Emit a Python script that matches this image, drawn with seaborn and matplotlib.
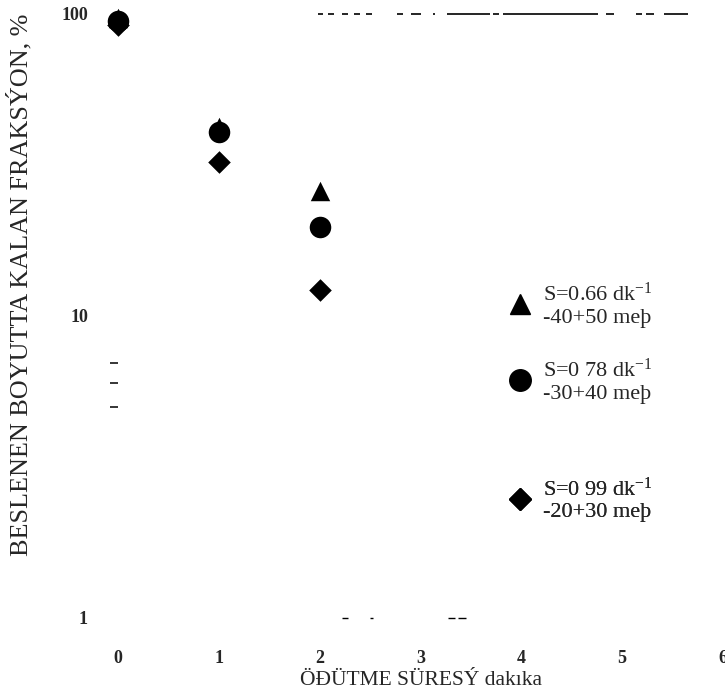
import pandas as pd
import matplotlib
matplotlib.use("Agg")
import matplotlib.pyplot as plt
from matplotlib.lines import Line2D
import seaborn as sns

# --- data ---
grind_time = [0, 1, 2]
frac_40_50 = [97, 42.3, 25.9]    # triangles
frac_30_40 = [95, 40.6, 19.7]    # circles
frac_20_30 = [92, 32.4, 12.2]    # diamonds

rate_labels = ["S=0.66 dk$^{-1}$", "S=0 78 dk$^{-1}$", "S=0 99 dk$^{-1}$"]
size_labels = ["-40+50 meþ", "-30+40 meþ", "-20+30 meþ"]

x_ticks = [0, 1, 2, 3, 4, 5, 6]
y_ticks = [1, 10, 100]
y_minor = [5, 6, 7]

df = pd.concat([
    pd.DataFrame({"time": grind_time, "frac": frac_40_50, "size": size_labels[0]}),
    pd.DataFrame({"time": grind_time, "frac": frac_30_40, "size": size_labels[1]}),
    pd.DataFrame({"time": grind_time, "frac": frac_20_30, "size": size_labels[2]}),
], ignore_index=True)

# --- style ---
sns.set_style("white")
plt.rcParams["font.family"] = ["Liberation Serif", "DejaVu Serif"]
plt.rcParams["mathtext.fontset"] = "custom"
plt.rcParams["mathtext.rm"] = "Liberation Serif"
plt.rcParams["mathtext.it"] = "Liberation Serif:italic"
plt.rcParams["mathtext.bf"] = "Liberation Serif:bold"
plt.rcParams["lines.scale_dashes"] = False

markers = {size_labels[0]: "^", size_labels[1]: "o", size_labels[2]: "D"}
msizes = {size_labels[0]: 14, size_labels[1]: 15.5, size_labels[2]: 11.5}

W, H = 725, 698
fig = plt.figure(figsize=(W / 100, H / 100), dpi=100)
ax = fig.add_axes([118 / W, 80 / H, 605 / W, 604 / H])
ax.set_yscale("log")

for name in size_labels:
    sns.scatterplot(data=df[df["size"] == name], x="time", y="frac",
                    marker=markers[name], s=msizes[name] ** 2, color="black",
                    edgecolor="black", linewidth=0, clip_on=False,
                    legend=False, ax=ax, zorder=3)

ax.set_xlim(0, 6)
ax.set_ylim(1, 100)
ax.set_xticks(x_ticks)
ax.set_xticklabels([str(t) for t in x_ticks])
ax.set_yticks(y_ticks)
ax.set_yticklabels([str(t) for t in y_ticks])
ax.set_yticks(y_minor, minor=True)
ax.yaxis.set_minor_formatter(matplotlib.ticker.NullFormatter())
ax.tick_params(axis="both", which="major", length=0, labelsize=13)
ax.tick_params(axis="x", which="major", pad=23)
ax.tick_params(axis="y", which="major", pad=21.6)
ax.tick_params(axis="y", which="minor", left=True, length=6, width=1.1,
               color="black", direction="out")
for lab in ax.get_xticklabels() + ax.get_yticklabels():
    lab.set_fontweight("bold")
for sp in ax.spines.values():
    sp.set_visible(False)

# faded frame fragments left over from the scan
px = 0.72
top_dash = [5, 5, 6, 8, 6, 6, 6, 6, 6, 25, 6, 8, 10, 12, 2, 12, 43, 3, 6, 4,
            95, 8, 8, 22, 6, 4, 8, 10, 24, 4]
bot_dash = [6, 22, 3, 75, 7, 3, 8, 4]
ax.axhline(100, xmin=0.331, xmax=0.942, color="black", lw=1.2, clip_on=False,
           dashes=[d * px for d in top_dash])
ax.axhline(1, xmin=0.370, xmax=0.575, color="black", lw=1.0, clip_on=False,
           dashes=[d * px for d in bot_dash])

ax.set_xlabel("ÖÐÜTME SÜRESÝ dakıka", fontsize=15.5)
ax.xaxis.set_label_coords(0.5, -0.088)
ax.set_ylabel("BESLENEN BOYUTTA KALAN FRAKSÝON, %", fontsize=18.8)
ax.yaxis.label.set_va("center")
ax.yaxis.set_label_coords((20 - 118) / 605, (618 - 285) / 604)

# legend: one small legend per entry, placed like the original
legend_y_px = [305, 381, 500]
for name, rate, ypx in zip(size_labels, rate_labels, legend_y_px):
    h = Line2D([], [], marker=markers[name], linestyle="", color="black",
               markersize=msizes[name])
    leg = ax.legend(handles=[h], labels=[rate + "\n" + name],
                    loc="center left", bbox_to_anchor=(509 / W, 1 - ypx / H),
                    bbox_transform=fig.transFigure, frameon=False, fontsize=16,
                    handlelength=1.0, handletextpad=0.55, borderpad=0,
                    borderaxespad=0)
    ax.add_artist(leg)

plt.savefig("out.png", dpi=100)
